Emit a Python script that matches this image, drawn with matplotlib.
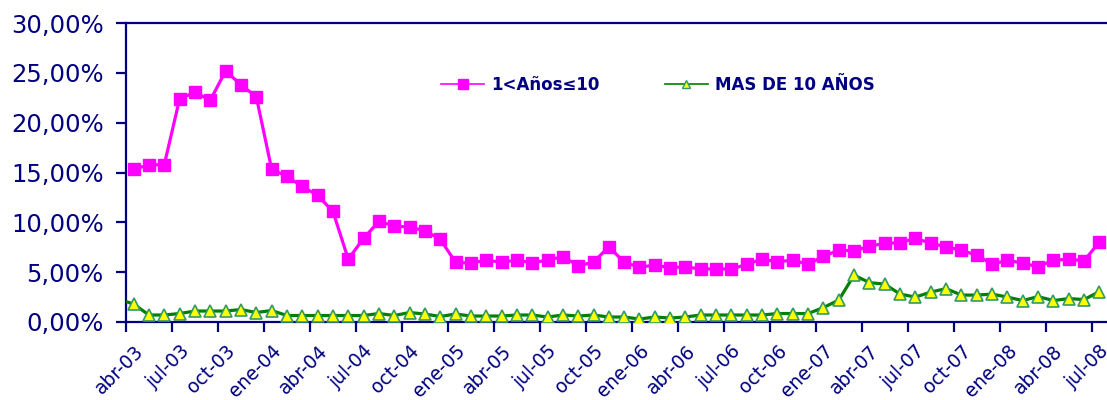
import matplotlib.pyplot as plt
from matplotlib.lines import Line2D
from matplotlib.ticker import FuncFormatter, FixedLocator

# monthly categories, mar-03 (only partly visible at the left edge) to jul-08
meses = ['ene', 'feb', 'mar', 'abr', 'may', 'jun', 'jul', 'ago', 'sep', 'oct', 'nov', 'dic']
months = []
for yy in range(3, 9):
    for m in meses:
        months.append(f'{m}-{yy:02d}')
months = months[2:months.index('jul-08') + 1]

# 1<Años<=10 (%), no value shown for mar-03
anos_1_10 = [None,
             15.35, 15.75, 15.8, 22.4, 23.05, 22.25, 25.2, 23.8, 22.6, 15.35,
             14.6, 13.6, 12.7, 11.1, 6.3, 8.4, 10.1, 9.65, 9.5, 9.16,
             8.3, 6.0, 5.9, 6.2, 6.0, 6.2, 5.95, 6.2, 6.55, 5.65,
             6.0, 7.55, 6.0, 5.5, 5.7, 5.45, 5.55, 5.3, 5.35, 5.3,
             5.8, 6.3, 6.05, 6.2, 5.8, 6.6, 7.2, 7.15, 7.6, 7.9,
             7.95, 8.4, 7.9, 7.55, 7.2, 6.7, 5.8, 6.2, 5.9, 5.55,
             6.2, 6.3, 6.15, 8.0]

# MAS DE 10 AÑOS (%)
mas_10 = [2.3,
          1.8, 0.7, 0.7, 0.85, 1.1, 1.1, 1.1, 1.25, 0.95, 1.15,
          0.65, 0.65, 0.65, 0.65, 0.65, 0.65, 0.85, 0.65, 0.95, 0.8,
          0.55, 0.8, 0.6, 0.6, 0.6, 0.7, 0.7, 0.5, 0.7, 0.6,
          0.7, 0.5, 0.5, 0.3, 0.5, 0.4, 0.5, 0.7, 0.7, 0.7,
          0.7, 0.7, 0.85, 0.85, 0.85, 1.45, 2.2, 4.7, 3.95, 3.8,
          2.8, 2.5, 3.0, 3.35, 2.7, 2.7, 2.8, 2.5, 2.15, 2.55,
          2.15, 2.35, 2.25, 3.05]

navy = '#000080'
x = list(range(len(months)))
y1 = [float('nan') if v is None else v for v in anos_1_10]

fig = plt.figure(figsize=(11.07, 4.0), dpi=100)
ax = fig.add_axes([126 / 1107, 1 - 322 / 400, 1 - 126 / 1107, 299 / 400])

ax.plot(x, y1, color='#FF00FF', lw=2.3, marker='s', ms=9,
        mfc='#FF00FF', mec='#FF00FF', zorder=3)
ax.plot(x, mas_10, color='#008000', lw=2.3, marker='^', ms=8.5,
        mfc='#FFFF00', mec='#339966', mew=1.2, zorder=4)

ax.set_xlim(0.5, len(months) - 0.5)
ax.set_ylim(0, 30)

for s in ['left', 'bottom', 'top']:
    ax.spines[s].set_color(navy)
    ax.spines[s].set_linewidth(1.6)
ax.spines['right'].set_visible(False)

ax.set_yticks(range(0, 31, 5))
ax.yaxis.set_major_formatter(FuncFormatter(lambda v, p: f'{v:.2f}'.replace('.', ',') + '%'))
ax.tick_params(axis='y', colors=navy, labelsize=17.5, length=7, width=1.6, pad=9)

# tick marks between categories every 3 months, labels at category centres
ax.xaxis.set_major_locator(FixedLocator([i - 0.5 for i in range(1, len(months) + 1, 3)]))
ax.xaxis.set_major_formatter(FuncFormatter(lambda v, p: ''))
ax.xaxis.set_minor_locator(FixedLocator(list(range(1, len(months), 3))))
ax.set_xticklabels([months[i] for i in range(1, len(months), 3)], minor=True)
ax.tick_params(axis='x', which='major', colors=navy, length=7, width=1.6, direction='out')
ax.tick_params(axis='x', which='minor', colors=navy, length=0, labelsize=13.5, pad=14)
for lbl in ax.get_xticklabels(minor=True):
    lbl.set_rotation(45)
    lbl.set_ha('right')
    lbl.set_va('top')
    lbl.set_rotation_mode('anchor')

handles = [
    Line2D([], [], color='#FF00FF', lw=1.2, marker='s', ms=7, mfc='#FF00FF', mec='#FF00FF'),
    Line2D([], [], color='#008000', lw=1.2, marker='^', ms=6, mfc='#FFFF00', mec='#339966'),
]
leg = ax.legend(handles, ['1<Años≤10', 'MAS DE 10 AÑOS'], loc='center',
                bbox_to_anchor=(0.542, 0.793), ncol=2, frameon=False,
                handlelength=2.6, handletextpad=0.4, columnspacing=3.9,
                prop={'size': 12, 'weight': 'bold'})
for t in leg.get_texts():
    t.set_color(navy)

plt.savefig('out.png', dpi=100)
